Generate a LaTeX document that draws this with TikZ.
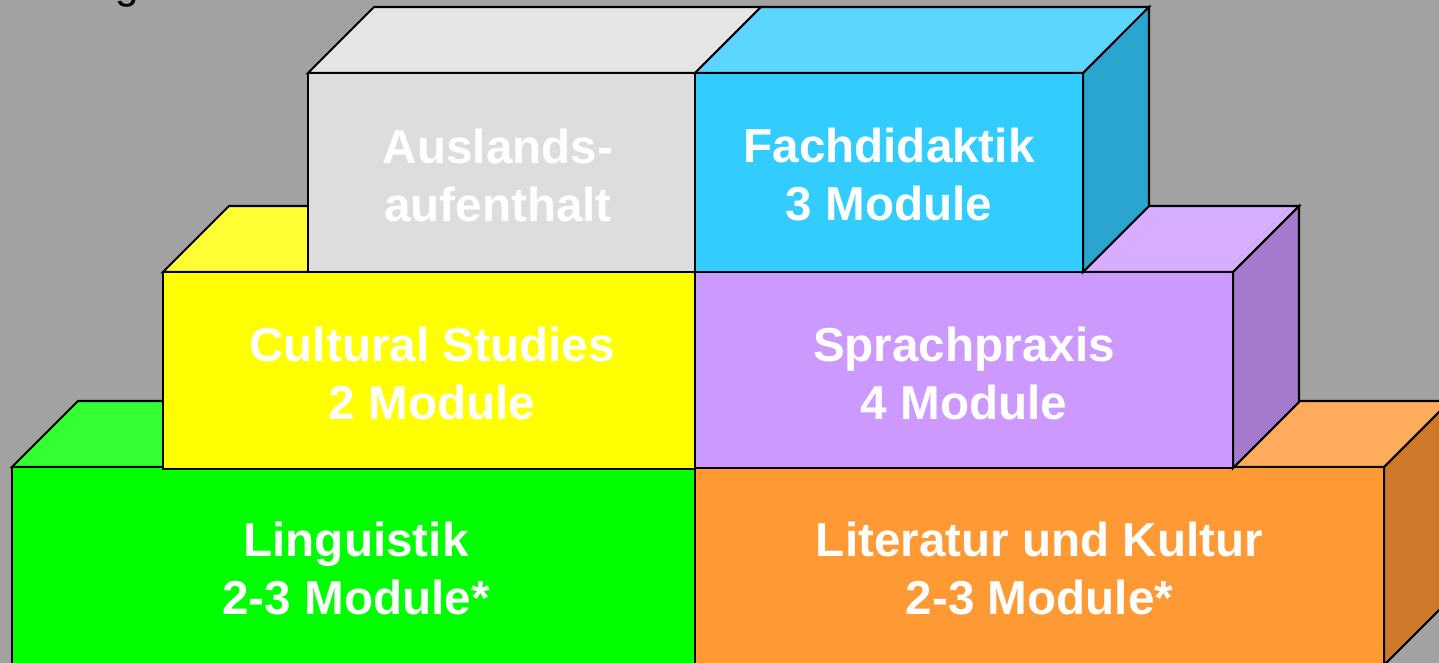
\documentclass[tikz,border=0pt]{standalone}
\usepackage{fontspec}
\setmainfont{Liberation Sans}

\definecolor{hintergrund}{HTML}{A2A2A2}
\definecolor{grau}{HTML}{DDDDDD}
\definecolor{grauoben}{HTML}{E5E5E5}
\definecolor{cyan}{HTML}{33CCFF}
\definecolor{cyanoben}{HTML}{5CD6FF}
\definecolor{cyanseite}{HTML}{29A5CF}
\definecolor{gelb}{HTML}{FFFF00}
\definecolor{gelboben}{HTML}{FFFF33}
\definecolor{lila}{HTML}{CC99FF}
\definecolor{lilaoben}{HTML}{D6ADFF}
\definecolor{lilaseite}{HTML}{A37ACC}
\definecolor{gruen}{HTML}{00FF00}
\definecolor{gruenoben}{HTML}{33FF33}
\definecolor{orange}{HTML}{FF9933}
\definecolor{orangeoben}{HTML}{FFAD5C}
\definecolor{orangeseite}{HTML}{CC7A29}

\begin{document}
\begin{tikzpicture}[line join=miter, face/.style={draw=black, line width=1.2pt}, modul/.style={text=white, font=\bfseries\fontsize{27.1}{33}\selectfont, align=center, inner sep=0pt}]

	\useasboundingbox (0,0) rectangle (28.78,-13.26);
	\clip (0,0) rectangle (28.78,-13.26);
	\fill[hintergrund] (0,0) rectangle (28.78,-13.26);

	% Titel (oben abgeschnitten)
	\node[font=\fontsize{24}{28}\selectfont, anchor=base, inner sep=0pt] (titel) at (2.54, 0.02) {g};

	% Unterste Reihe
	\filldraw[face, fill=gruenoben] (0.24,-9.34) -- (1.56,-8.02) -- (15.22,-8.02) -- (13.9,-9.34) -- cycle;
	\filldraw[face, fill=gruen] (0.24,-9.34) rectangle (13.9,-13.3);
	\filldraw[face, fill=orangeoben] (13.9,-9.34) -- (15.22,-8.02) -- (29.0,-8.02) -- (27.68,-9.34) -- cycle;
	\filldraw[face, fill=orangeseite] (27.68,-9.34) -- (29.0,-8.02) -- (29.0,-11.98) -- (27.68,-13.3) -- cycle;
	\filldraw[face, fill=orange] (13.9,-9.34) rectangle (27.68,-13.3);
	\node[modul] (linguistik) at (7.12, -11.38) {Linguistik\\2-3 Module*};
	\node[modul] (literatur) at (20.79, -11.38) {Literatur und Kultur\\2-3 Module*};

	% Mittlere Reihe
	\filldraw[face, fill=gelboben] (3.26,-5.44) -- (4.58,-4.12) -- (15.22,-4.12) -- (13.9,-5.44) -- cycle;
	\filldraw[face, fill=gelb] (3.26,-5.44) rectangle (13.9,-9.38);
	\filldraw[face, fill=lilaoben] (13.9,-5.44) -- (15.22,-4.12) -- (25.98,-4.12) -- (24.66,-5.44) -- cycle;
	\filldraw[face, fill=lilaseite] (24.66,-5.44) -- (25.98,-4.12) -- (25.98,-8.04) -- (24.66,-9.36) -- cycle;
	\filldraw[face, fill=lila] (13.9,-5.44) rectangle (24.66,-9.36);
	\node[modul] (cultural) at (8.64, -7.47) {Cultural Studies\\2 Module};
	\node[modul] (sprachpraxis) at (19.28, -7.47) {Sprachpraxis\\4 Module};

	% Oberste Reihe
	\filldraw[face, fill=grauoben] (6.16,-1.46) -- (7.48,-0.14) -- (15.22,-0.14) -- (13.9,-1.46) -- cycle;
	\filldraw[face, fill=grau] (6.16,-1.46) rectangle (13.9,-5.44);
	\filldraw[face, fill=cyanoben] (13.9,-1.46) -- (15.22,-0.14) -- (22.98,-0.14) -- (21.66,-1.46) -- cycle;
	\filldraw[face, fill=cyanseite] (21.66,-1.46) -- (22.98,-0.14) -- (22.98,-4.12) -- (21.66,-5.44) -- cycle;
	\filldraw[face, fill=cyan] (13.9,-1.46) rectangle (21.66,-5.44);
	\node[modul] (auslands) at (9.96, -3.5) {Auslands-\\aufenthalt};
	\node[modul] (fachdidaktik) at (17.78, -3.5) {Fachdidaktik\\3 Module};

\end{tikzpicture}
\end{document}
